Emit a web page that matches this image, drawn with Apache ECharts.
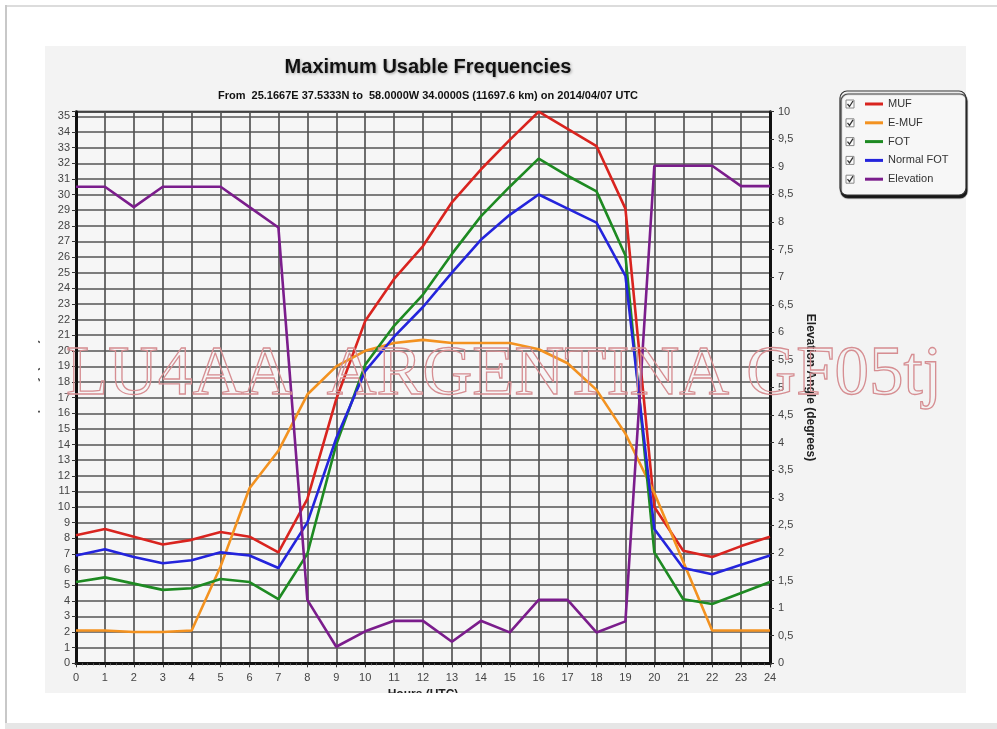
<!DOCTYPE html>
<html>
<head>
<meta charset="utf-8">
<script src="https://cdn.jsdelivr.net/npm/echarts@6/dist/echarts.min.js"></script>
<style>
html,body{margin:0;padding:0;background:#fff;}
#chart{width:997px;height:729px;}
</style>
</head>
<body>
<div id="chart"></div>
<script>
// ---- data ----
const hours = [0,1,2,3,4,5,6,7,8,9,10,11,12,13,14,15,16,17,18,19,20,21,22,23,24];
const muf   = [8.2,8.6,8.1,7.6,7.9,8.4,8.1,7.1,10.5,16.9,21.9,24.6,26.7,29.5,31.6,33.5,35.3,34.2,33.1,29.1,10.0,7.2,6.8,7.5,8.1];
const emuf  = [2.1,2.1,2.0,2.0,2.1,6.2,11.2,13.6,17.2,19.0,20.0,20.5,20.7,20.5,20.5,20.5,20.1,19.2,17.5,14.7,10.9,6.5,2.1,2.1,2.1];
const fot   = [5.2,5.5,5.1,4.7,4.8,5.4,5.2,4.1,7.0,14.0,19.1,21.6,23.6,26.2,28.6,30.5,32.3,31.2,30.2,26.1,7.1,4.1,3.8,4.5,5.2];
const nfot  = [6.9,7.3,6.8,6.4,6.6,7.1,6.9,6.1,9.0,14.4,18.7,20.9,22.8,25.0,27.1,28.7,30.0,29.1,28.2,24.8,8.6,6.1,5.7,6.3,6.9];
const elev  = [8.64,8.64,8.27,8.64,8.64,8.64,8.27,7.9,1.15,0.30,0.58,0.77,0.77,0.39,0.77,0.56,1.15,1.15,0.56,0.76,9.02,9.02,9.02,8.65,8.65];
const seriesNames = ['MUF','E-MUF','FOT','Normal FOT','Elevation'];
const seriesColors = ['#d9241f','#f39220','#1e8a22','#2424dc','#7b1d8c'];
const titleText = 'Maximum Usable Frequencies';
const subText = 'From  25.1667E 37.5333N to  58.0000W 34.0000S (11697.6 km) on 2014/04/07 UTC';
const watermark = 'LU4AA  ARGENTINA GF05tj';

const FONT = '"Liberation Sans", Arial, Helvetica, sans-serif';
const pair = (arr) => hours.map((h, i) => [h, arr[i]]);
const seriesData = [muf, emuf, fot, nfot, elev];

const chart = echarts.init(document.getElementById('chart'));

// legend check boxes (decoration)
const legendRowY = [104, 122.8, 141.6, 160.4, 179.2];
const checks = [];
legendRowY.forEach((y) => {
  checks.push({type:'rect', shape:{x:846, y:y-4, width:8, height:8},
    style:{fill:'#fbfbfb', stroke:'#888', lineWidth:1}, z:110});
  checks.push({type:'polyline', shape:{points:[[847.5,y],[849.5,y+2.5],[853,y-3]]},
    style:{stroke:'#333', lineWidth:1.3, fill:null}, z:111});
});

const option = {
  backgroundColor: '#ffffff',
  animation: false,
  textStyle: {fontFamily: FONT},
  title: {
    text: titleText,
    subtext: subText,
    left: 423, top: 52,
    textAlign: 'center',
    itemGap: 13,
    textStyle: {fontSize: 20, fontWeight: 'bold', color: '#111', fontFamily: FONT,
      textShadowColor: 'rgba(0,0,0,0.35)', textShadowBlur: 3, textShadowOffsetX: 1, textShadowOffsetY: 1},
    subtextStyle: {fontSize: 11, fontWeight: 'bold', color: '#111', fontFamily: FONT}
  },
  legend: {
    orient: 'vertical',
    left: 860, top: 92.5,
    padding: 5,
    z: 200,
    icon: 'rect',
    itemWidth: 18, itemHeight: 3,
    itemGap: 5.8,
    data: seriesNames,
    textStyle: {fontSize: 11, color: '#333', lineHeight: 13, fontFamily: FONT},
    selectedMode: false
  },
  grid: {
    left: 76, right: 227, top: 111.7, bottom: 65.7,
    show: true, backgroundColor: '#f6f6f6', borderColor: '#111', borderWidth: 2,
    containLabel: false
  },
  xAxis: {
    type: 'value', min: 0, max: 24, interval: 1,
    name: 'Hours (UTC)', nameLocation: 'middle', nameGap: 20,
    nameTextStyle: {fontSize: 12, fontWeight: 'bold', color: '#222'},
    axisLine: {show: true, lineStyle: {color: '#111', width: 3}},
    axisTick: {show: true, length: 4, lineStyle: {color: '#333'}},
    minorTick: {show: true, splitNumber: 5, length: 2, lineStyle: {color: '#555'}},
    axisLabel: {fontSize: 11, color: '#444', margin: 9},
    splitLine: {show: true, lineStyle: {color: '#555', width: 1.7}}
  },
  yAxis: [{
    type: 'value', min: 0, max: 35.3, interval: 1,
    name: 'Frequency (MHz)', nameLocation: 'middle', nameGap: 36, nameRotate: 90,
    nameTextStyle: {fontSize: 12, fontWeight: 'bold', color: '#555'},
    axisLine: {show: true, lineStyle: {color: '#111', width: 3}},
    axisTick: {show: true, length: 4, lineStyle: {color: '#333'}},
    axisLabel: {fontSize: 11, color: '#444', margin: 6,
      formatter: (v) => Number.isInteger(v) ? String(v) : ''},
    splitLine: {show: true, lineStyle: {color: '#555', width: 1.7}}
  }, {
    type: 'value', min: 0, max: 10, interval: 0.5, position: 'right',
    name: 'Elevation Angle (degrees)', nameLocation: 'middle', nameGap: 29, nameRotate: -90,
    nameTextStyle: {fontSize: 12, fontWeight: 'bold', color: '#222'},
    axisLine: {show: true, lineStyle: {color: '#111', width: 3}},
    axisTick: {show: true, length: 4, lineStyle: {color: '#333'}},
    axisLabel: {fontSize: 11, color: '#444', margin: 8,
      formatter: (v) => String(v).replace('.', ',')},
    splitLine: {show: false}
  }],
  series: seriesNames.map((n, i) => ({
    name: n, type: 'line',
    yAxisIndex: i === 4 ? 1 : 0,
    data: pair(seriesData[i]),
    showSymbol: false, symbol: 'none',
    color: seriesColors[i],
    lineStyle: {width: 2.6, color: seriesColors[i]},
    z: 3 + i
  })),
  graphic: [
    // outer frame lines
    {type:'rect', shape:{x:5, y:5, width:992, height:2}, style:{fill:'#dcdcdc'}, z:-10},
    {type:'rect', shape:{x:5, y:5, width:2, height:720}, style:{fill:'#c8c8c8'}, z:-10},
    {type:'rect', shape:{x:5, y:723, width:992, height:6}, style:{fill:'#e6e6e6'}, z:-10},
    // gray panel
    {type:'rect', shape:{x:45, y:46, width:921, height:647}, style:{fill:'#f3f3f3'}, z:-9},
    // white masks that cut the axis names like in the picture
    {type:'rect', shape:{x:8, y:300, width:30, height:200}, style:{fill:'#ffffff'}, z:100},
    {type:'rect', shape:{x:45, y:693, width:900, height:29}, style:{fill:'#ffffff'}, z:100},
    // watermark
    {type:'text', x:66, y:376, z:50, silent:true,
      style:{text: watermark, fontFamily:'"Liberation Serif", "DejaVu Serif", serif', fontSize:69,
        fill:'rgba(0,0,0,0)', stroke:'#d68e92', lineWidth:1.3, textVerticalAlign:'middle', textAlign:'left'}},
    // legend box
    {type:'rect', shape:{x:840, y:91, width:126, height:104, r:7},
      style:{fill:'#f7f7f7', stroke:'#333', lineWidth:1.2, shadowColor:'rgba(0,0,0,0.9)', shadowBlur:1, shadowOffsetX:1, shadowOffsetY:3}, z:90},
    ...checks
  ]
};
chart.setOption(option);
</script>
</body>
</html>
